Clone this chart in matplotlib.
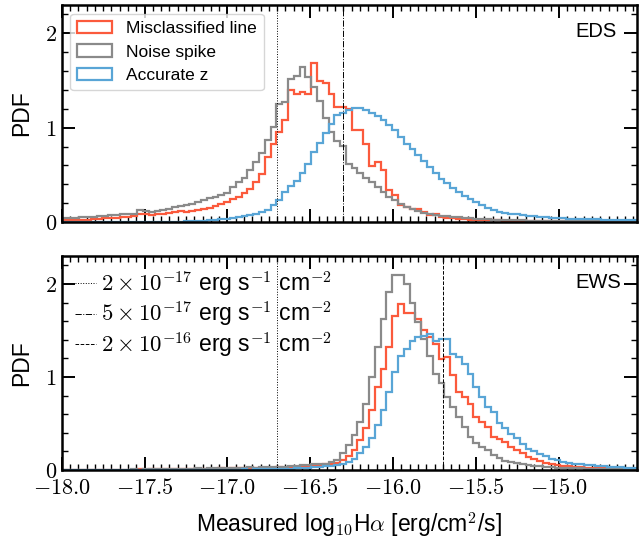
import numpy as np
import matplotlib
matplotlib.use('Agg')
import matplotlib.pyplot as plt
from matplotlib.ticker import MultipleLocator, FormatStrFormatter

plt.rcParams['font.family'] = ['Liberation Sans', 'DejaVu Sans']
plt.rcParams['mathtext.fontset'] = 'cm'

# histogram bins (log10 flux), 0.035 dex wide
bin_edges = np.round(np.linspace(-18.0, -14.5, 101), 4)
bin_mid = 0.5 * (bin_edges[:-1] + bin_edges[1:])

# EDS panel
eds_misclassified = [
    0.02, 0.02, 0.02, 0.02, 0.02, 0.03, 0.03, 0.04, 0.04, 0.04,
    0.05, 0.05, 0.06, 0.08, 0.09, 0.07, 0.08, 0.09, 0.10, 0.11,
    0.12, 0.11, 0.12, 0.13, 0.14, 0.15, 0.17, 0.19, 0.21, 0.24,
    0.27, 0.31, 0.35, 0.42, 0.51, 0.69, 0.83, 0.95, 1.08, 1.40,
    1.36, 1.38, 1.36, 1.69, 1.49, 1.47, 1.36, 1.22, 1.22, 1.20,
    0.97, 0.97, 0.83, 0.59, 0.64, 0.55, 0.34, 0.29, 0.18, 0.16,
    0.14, 0.14, 0.11, 0.07, 0.08, 0.05, 0.04, 0.04, 0.03, 0.03,
    0.02, 0.02, 0.02, 0.02, 0.02, 0.02, 0.01, 0.01, 0.01, 0.01,
    0.01, 0.01, 0.01, 0.01, 0.01, 0.01, 0.01, 0.01, 0.01, 0.01,
    0.01, 0.01, 0.01, 0.01, 0.01, 0.01, 0.01, 0.01, 0.01, 0.01]
eds_noise = [
    0.04, 0.04, 0.04, 0.05, 0.05, 0.05, 0.06, 0.06, 0.07, 0.07,
    0.08, 0.09, 0.09, 0.13, 0.12, 0.11, 0.12, 0.13, 0.14, 0.16,
    0.17, 0.18, 0.19, 0.21, 0.23, 0.25, 0.27, 0.29, 0.31, 0.37,
    0.42, 0.47, 0.55, 0.64, 0.73, 0.87, 1.01, 1.25, 1.27, 1.52,
    1.55, 1.64, 1.54, 1.43, 1.28, 1.10, 0.95, 0.86, 0.81, 0.62,
    0.57, 0.52, 0.47, 0.42, 0.37, 0.32, 0.27, 0.23, 0.19, 0.16,
    0.14, 0.12, 0.10, 0.09, 0.07, 0.06, 0.06, 0.05, 0.05, 0.04,
    0.04, 0.03, 0.03, 0.03, 0.02, 0.02, 0.02, 0.02, 0.02, 0.02,
    0.01, 0.01, 0.01, 0.01, 0.01, 0.01, 0.01, 0.01, 0.01, 0.01,
    0.01, 0.01, 0.01, 0.01, 0.01, 0.01, 0.01, 0.01, 0.01, 0.01]
eds_accurate = [
    0.00, 0.00, 0.00, 0.00, 0.00, 0.00, 0.00, 0.00, 0.00, 0.00,
    0.00, 0.00, 0.00, 0.00, 0.00, 0.00, 0.00, 0.00, 0.00, 0.00,
    0.00, 0.01, 0.01, 0.01, 0.01, 0.02, 0.02, 0.03, 0.03, 0.04,
    0.05, 0.06, 0.07, 0.09, 0.11, 0.13, 0.18, 0.23, 0.32, 0.38,
    0.43, 0.52, 0.62, 0.74, 0.84, 0.94, 1.04, 1.13, 1.16, 1.19,
    1.21, 1.21, 1.19, 1.16, 1.12, 1.08, 1.03, 0.97, 0.90, 0.83,
    0.77, 0.71, 0.65, 0.58, 0.52, 0.46, 0.41, 0.36, 0.32, 0.28,
    0.24, 0.21, 0.18, 0.15, 0.13, 0.11, 0.10, 0.09, 0.08, 0.07,
    0.06, 0.06, 0.05, 0.05, 0.04, 0.04, 0.04, 0.03, 0.03, 0.03,
    0.03, 0.03, 0.03, 0.02, 0.02, 0.02, 0.02, 0.02, 0.02, 0.02]

# EWS panel
ews_misclassified = [
    0.00, 0.00, 0.00, 0.00, 0.00, 0.00, 0.00, 0.00, 0.00, 0.00,
    0.00, 0.00, 0.00, 0.01, 0.00, 0.01, 0.01, 0.01, 0.01, 0.01,
    0.01, 0.01, 0.01, 0.01, 0.01, 0.01, 0.01, 0.02, 0.01, 0.02,
    0.02, 0.02, 0.02, 0.02, 0.02, 0.02, 0.02, 0.03, 0.02, 0.03,
    0.03, 0.04, 0.04, 0.05, 0.05, 0.06, 0.07, 0.08, 0.11, 0.15,
    0.22, 0.32, 0.45, 0.64, 0.89, 1.09, 1.32, 1.65, 1.78, 1.69,
    1.69, 1.62, 1.50, 1.43, 1.35, 1.19, 1.21, 1.02, 0.84, 0.78,
    0.71, 0.57, 0.52, 0.46, 0.36, 0.33, 0.30, 0.25, 0.21, 0.18,
    0.14, 0.12, 0.10, 0.08, 0.07, 0.05, 0.04, 0.04, 0.03, 0.03,
    0.02, 0.02, 0.02, 0.02, 0.01, 0.01, 0.01, 0.01, 0.01, 0.01]
ews_noise = [
    0.00, 0.00, 0.00, 0.00, 0.00, 0.00, 0.00, 0.00, 0.00, 0.00,
    0.00, 0.00, 0.01, 0.00, 0.01, 0.01, 0.01, 0.01, 0.01, 0.01,
    0.01, 0.01, 0.01, 0.02, 0.01, 0.02, 0.02, 0.02, 0.02, 0.02,
    0.02, 0.02, 0.03, 0.02, 0.03, 0.03, 0.03, 0.03, 0.03, 0.04,
    0.04, 0.05, 0.05, 0.06, 0.06, 0.07, 0.09, 0.11, 0.18, 0.27,
    0.38, 0.52, 0.71, 1.00, 1.32, 1.62, 1.91, 2.10, 2.10, 2.00,
    1.80, 1.59, 1.41, 1.23, 1.03, 0.93, 0.78, 0.68, 0.57, 0.46,
    0.36, 0.29, 0.25, 0.21, 0.16, 0.13, 0.10, 0.09, 0.08, 0.06,
    0.05, 0.04, 0.04, 0.03, 0.03, 0.02, 0.02, 0.02, 0.02, 0.02,
    0.01, 0.01, 0.01, 0.01, 0.01, 0.01, 0.01, 0.01, 0.01, 0.01]
ews_accurate = [
    0.00, 0.00, 0.00, 0.00, 0.00, 0.00, 0.00, 0.00, 0.00, 0.00,
    0.00, 0.00, 0.00, 0.00, 0.00, 0.00, 0.00, 0.00, 0.00, 0.00,
    0.00, 0.00, 0.00, 0.00, 0.00, 0.00, 0.00, 0.00, 0.00, 0.00,
    0.00, 0.01, 0.00, 0.01, 0.01, 0.01, 0.01, 0.01, 0.01, 0.01,
    0.02, 0.02, 0.02, 0.03, 0.03, 0.04, 0.04, 0.05, 0.07, 0.09,
    0.12, 0.18, 0.25, 0.34, 0.48, 0.64, 0.84, 1.05, 1.23, 1.30,
    1.39, 1.43, 1.44, 1.46, 1.39, 1.41, 1.41, 1.25, 1.21, 1.14,
    1.03, 0.89, 0.78, 0.68, 0.62, 0.50, 0.45, 0.39, 0.34, 0.28,
    0.23, 0.20, 0.17, 0.15, 0.12, 0.11, 0.09, 0.08, 0.07, 0.06,
    0.05, 0.05, 0.04, 0.04, 0.03, 0.03, 0.03, 0.02, 0.02, 0.02]

series_labels = ['Misclassified line', 'Noise spike', 'Accurate z']
series_colors = ['#fb5a3c', '#8a8a8a', '#59a5d6']

flux_limits = [2e-17, 5e-17, 2e-16]
flux_labels = [r'$2\times10^{-17}$ erg s$^{-1}$ cm$^{-2}$',
               r'$5\times10^{-17}$ erg s$^{-1}$ cm$^{-2}$',
               r'$2\times10^{-16}$ erg s$^{-1}$ cm$^{-2}$']
flux_styles = [':', '-.', '--']

panels = [
    ('EDS', [eds_misclassified, eds_noise, eds_accurate], [0, 1]),
    ('EWS', [ews_misclassified, ews_noise, ews_accurate], [0, 2]),
]

fig = plt.figure(figsize=(6.39, 5.42), dpi=100)
ax_top = fig.add_axes([0.0966, 0.5904, 0.8998, 0.4004])
ax_bot = fig.add_axes([0.0966, 0.1328, 0.8998, 0.3949], sharex=ax_top)

for ax, (name, hists, lims) in zip([ax_top, ax_bot], panels):
    for vals, lab, col in zip(hists, series_labels, series_colors):
        ax.hist(bin_mid, bins=bin_edges, weights=vals, histtype='step',
                color=col, lw=1.6, label=lab)
    for j in lims:
        ax.axvline(np.log10(flux_limits[j]), color='k', lw=0.7,
                   ls=flux_styles[j])
    ax.text(0.893, 0.877, name, transform=ax.transAxes, ha='left',
            va='center', fontsize=14.5)
    ax.set_ylim(0, 2.3)
    ax.set_ylabel('PDF', fontsize=16.5, labelpad=8)
    ax.yaxis.set_major_locator(MultipleLocator(1))
    ax.yaxis.set_minor_locator(MultipleLocator(0.2))
    ax.yaxis.set_major_formatter(FormatStrFormatter(r'$%d$'))
    ax.xaxis.set_major_locator(MultipleLocator(0.5))
    ax.xaxis.set_minor_locator(MultipleLocator(0.05))
    ax.xaxis.set_major_formatter(FormatStrFormatter(r'$%.1f$'))
    ax.tick_params(which='both', direction='in', top=True, right=True)
    ax.tick_params(which='major', length=9.5, width=1.4, labelsize=16)
    ax.tick_params(which='minor', length=4.5, width=1.0)
    ax.tick_params(axis='x', which='major', pad=6)
    for sp in ax.spines.values():
        sp.set_linewidth(1.8)

ax_top.set_xlim(-18.0, -14.53)
ax_top.tick_params(labelbottom=False)
ax_top.legend(loc='upper left', fontsize=12.5, handlelength=2.0)

proxies = [ax_bot.plot([], [], color='k', lw=0.7, ls=s)[0] for s in flux_styles]
ax_bot.legend(proxies, flux_labels, loc='upper left', frameon=False,
              fontsize=16.5, handlelength=0.9, handletextpad=0.2,
              borderaxespad=0.3, borderpad=0.3, labelspacing=0.05)
ax_bot.set_xlabel(r'Measured log$_{10}$H$\alpha$ [erg/cm$^2$/s]',
                  fontsize=16.5, labelpad=8)

fig.savefig('out.png', dpi=100)
